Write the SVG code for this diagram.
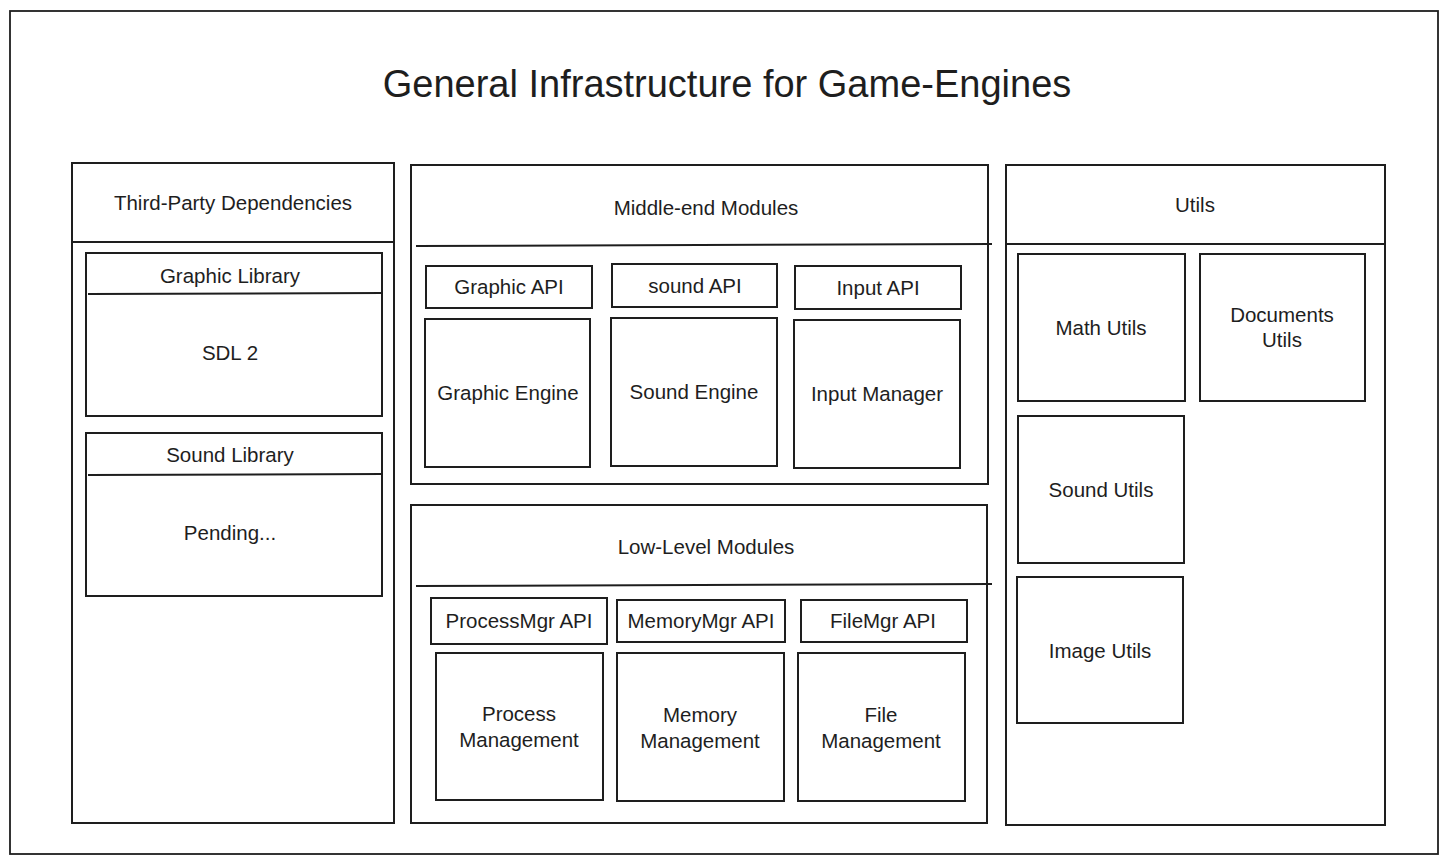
<svg xmlns="http://www.w3.org/2000/svg" width="1448" height="863" viewBox="0 0 1448 863">
<style>
.bx{fill:none;stroke:#1e1e1e;stroke-width:2}
.ln{stroke:#1e1e1e;stroke-width:2}
.t{font-family:"Liberation Sans","DejaVu Sans",sans-serif;font-size:20.5px;fill:#1e1e1e;text-anchor:middle;dominant-baseline:central}
.h{font-family:"Liberation Sans","DejaVu Sans",sans-serif;font-size:38px;fill:#1e1e1e;text-anchor:middle;dominant-baseline:central}
</style>
<rect width="1448" height="863" fill="#ffffff"/>
<g id="frame">
<rect x="10" y="11" width="1428" height="843" fill="none" stroke="#1e1e1e" stroke-width="1.8"/>
<text class="h" x="727" y="84">General Infrastructure for Game-Engines</text>
</g>
<g id="third-party">
<rect class="bx" x="72" y="163" width="322" height="660"/>
<line class="ln" x1="72" y1="242" x2="394" y2="242"/>
<text class="t" x="233" y="202">Third-Party Dependencies</text>
</g>
<g id="graphic-library">
<rect class="bx" x="86" y="253" width="296" height="163" stroke-width="1.5"/>
<line class="ln" x1="88" y1="294" x2="383" y2="293"/>
<text class="t" x="230" y="275">Graphic Library</text>
<text class="t" x="230" y="352">SDL 2</text>
</g>
<g id="sound-library">
<rect class="bx" x="86" y="433" width="296" height="163" stroke-width="1.5"/>
<line class="ln" x1="88" y1="475" x2="383" y2="474"/>
<text class="t" x="230" y="454">Sound Library</text>
<text class="t" x="230" y="532">Pending...</text>
</g>
<g id="middle-end">
<rect class="bx" x="411" y="165" width="577" height="319" stroke-width="1.5"/>
<line class="ln" x1="416" y1="246" x2="992" y2="244"/>
<text class="t" x="706" y="207">Middle-end Modules</text>
</g>
<g id="graphic-api"><rect class="bx" x="426" y="266" width="166" height="42"/><text class="t" x="509" y="286">Graphic API</text></g>
<g id="sound-api"><rect class="bx" x="612" y="264" width="165" height="43"/><text class="t" x="695" y="285">sound API</text></g>
<g id="input-api"><rect class="bx" x="795" y="266" width="166" height="43"/><text class="t" x="878" y="287">Input API</text></g>
<g id="graphic-engine"><rect class="bx" x="425" y="319" width="165" height="148"/><text class="t" x="508" y="392">Graphic Engine</text></g>
<g id="sound-engine"><rect class="bx" x="611" y="318" width="166" height="148"/><text class="t" x="694" y="391">Sound Engine</text></g>
<g id="input-manager"><rect class="bx" x="794" y="320" width="166" height="148"/><text class="t" x="877" y="393">Input Manager</text></g>
<g id="low-level">
<rect class="bx" x="411" y="505" width="576" height="318" stroke-width="1.5"/>
<line class="ln" x1="416" y1="586" x2="992" y2="584"/>
<text class="t" x="706" y="546">Low-Level Modules</text>
</g>
<g id="processmgr-api"><rect class="bx" x="431" y="598" width="176" height="46"/><text class="t" x="519" y="620">ProcessMgr API</text></g>
<g id="memorymgr-api"><rect class="bx" x="617" y="600" width="168" height="42"/><text class="t" x="701" y="620">MemoryMgr API</text></g>
<g id="filemgr-api"><rect class="bx" x="801" y="600" width="166" height="42"/><text class="t" x="883" y="620">FileMgr API</text></g>
<g id="process-management"><rect class="bx" x="436" y="653" width="167" height="147"/><text class="t" x="519" y="713">Process</text><text class="t" x="519" y="739">Management</text></g>
<g id="memory-management"><rect class="bx" x="617" y="653" width="167" height="148"/><text class="t" x="700" y="714">Memory</text><text class="t" x="700" y="740">Management</text></g>
<g id="file-management"><rect class="bx" x="798" y="653" width="167" height="148"/><text class="t" x="881" y="714">File</text><text class="t" x="881" y="740">Management</text></g>
<g id="utils">
<rect class="bx" x="1006" y="165" width="379" height="660"/>
<line class="ln" x1="1006" y1="244" x2="1385" y2="244"/>
<text class="t" x="1195" y="204">Utils</text>
</g>
<g id="math-utils"><rect class="bx" x="1018" y="254" width="167" height="147"/><text class="t" x="1101" y="327">Math Utils</text></g>
<g id="documents-utils"><rect class="bx" x="1200" y="254" width="165" height="147"/><text class="t" x="1282" y="314">Documents</text><text class="t" x="1282" y="339">Utils</text></g>
<g id="sound-utils"><rect class="bx" x="1018" y="416" width="166" height="147"/><text class="t" x="1101" y="489">Sound Utils</text></g>
<g id="image-utils"><rect class="bx" x="1017" y="577" width="166" height="146"/><text class="t" x="1100" y="650">Image Utils</text></g>
<g id="connectors"></g>
</svg>
